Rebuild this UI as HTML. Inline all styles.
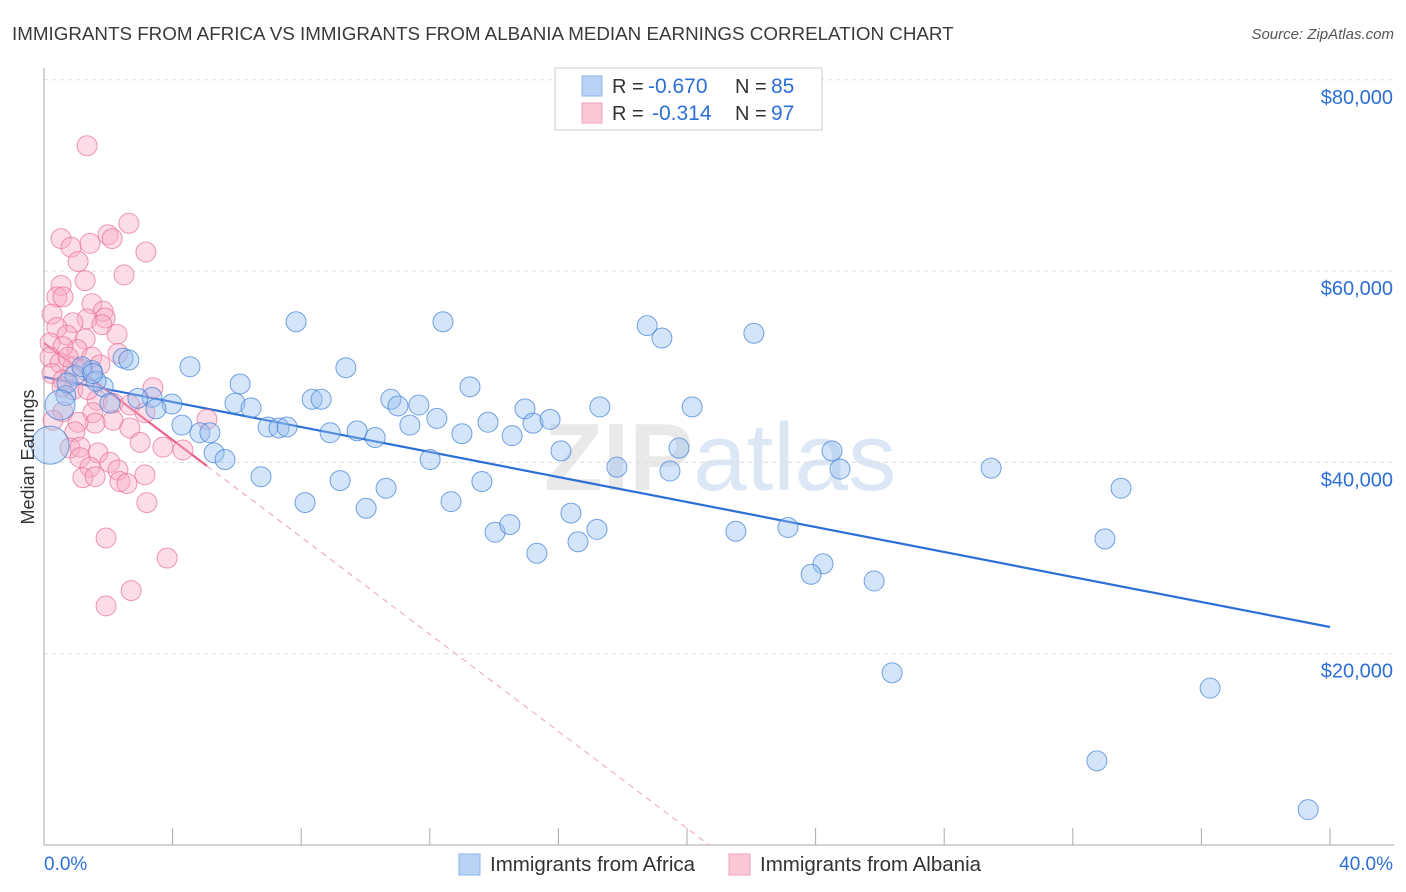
<!DOCTYPE html>
<html><head><meta charset="utf-8"><style>
body{margin:0;background:#fff;font-family:"Liberation Sans",sans-serif;}
svg{display:block}
</style></head><body>
<svg id="chart" width="1406" height="892" viewBox="0 0 1406 892" xmlns="http://www.w3.org/2000/svg">
<text x="12" y="40" font-size="18.8" fill="#3a3a3a">IMMIGRANTS FROM AFRICA VS IMMIGRANTS FROM ALBANIA MEDIAN EARNINGS CORRELATION CHART</text>
<text x="1394" y="39" font-size="15" fill="#555" font-style="italic" text-anchor="end">Source: ZipAtlas.com</text>
<text x="720" y="490" font-size="96" font-weight="bold" text-anchor="middle" fill="#e4e4e4" opacity="0.8">ZIP<tspan fill="#d3e2f3" font-weight="normal">atlas</tspan></text>
<g id="grid"></g>
<g id="axes"></g>
<g id="lines"></g>
<g id="points"></g>
<text transform="translate(34,457) rotate(-90)" font-size="18" fill="#333" text-anchor="middle">Median Earnings</text>
<g>
<rect x="555" y="68" width="267" height="62" fill="#fff" stroke="#ccc"/>
<rect x="582" y="76" width="20" height="20" fill="#b9d3f5" stroke="#8ab4ea"/>
<rect x="582" y="103" width="20" height="20" fill="#fbc8d8" stroke="#f2a0ba"/>
<text x="612" y="93" font-size="20" fill="#333">R =</text>
<text x="648" y="93" font-size="21" fill="#2d6fd6">-0.670</text>
<text x="735" y="93" font-size="20" fill="#333">N =</text>
<text x="771" y="93" font-size="21" fill="#2d6fd6">85</text>
<text x="612" y="120" font-size="20" fill="#333">R =</text>
<text x="652" y="120" font-size="21" fill="#2d6fd6">-0.314</text>
<text x="735" y="120" font-size="20" fill="#333">N =</text>
<text x="771" y="120" font-size="21" fill="#2d6fd6">97</text>
</g>
<g>
<rect x="459" y="854" width="21" height="21" fill="#b9d3f5" stroke="#8ab4ea"/>
<text x="490" y="871" font-size="20.5" fill="#333">Immigrants from Africa</text>
<rect x="729" y="854" width="21" height="21" fill="#fbc8d8" stroke="#f2a0ba"/>
<text x="760" y="871" font-size="20.5" fill="#333">Immigrants from Albania</text>
</g>
</svg>
<script>
const xTicksPct=[0,4,8,12,16,20,24,28,32,36,40];
const yTicks=[20000,40000,60000,80000];
const yTickLabels=["$20,000","$40,000","$60,000","$80,000"];
const africaX=[7.84,12.41,18.76,19.22,22.08,2.46,2.64,4.54,9.39,1.49,6.10,13.25,1.84,3.36,2.92,3.98,3.48,5.94,6.44,8.34,8.62,10.79,11.01,11.66,14.96,17.29,20.16,12.22,13.81,15.21,15.74,11.38,4.29,4.85,5.16,6.97,7.31,7.56,8.90,9.74,10.30,13.0,14.56,16.08,19.75,24.51,5.29,5.63,12.01,17.82,19.47,24.76,29.46,6.75,9.21,10.64,13.62,33.5,8.12,10.02,12.66,16.39,14.03,14.49,17.2,16.61,15.33,21.52,23.14,33.0,24.23,23.86,25.82,26.38,36.27,32.75,39.32,0.96,1.18,1.62,0.68,2.05,0.72,1.52];
const africaY=[54.7,54.7,54.3,53.0,53.5,50.9,50.7,50.0,49.9,49.6,48.2,47.9,47.9,46.8,46.7,46.1,45.6,46.2,45.7,46.6,46.6,46.6,45.9,46.0,45.6,45.8,45.8,44.6,44.2,44.1,44.5,43.9,43.9,43.1,43.1,43.7,43.6,43.7,43.1,43.3,42.6,43.0,42.8,41.2,41.5,41.2,41.0,40.3,40.3,39.5,39.1,39.3,39.4,38.5,38.1,37.3,38.0,37.3,35.8,35.2,35.9,34.7,32.7,33.5,33.0,31.7,30.5,32.8,33.2,32.0,29.4,28.3,27.6,18.0,16.4,8.8,3.7,49.1,50.0,48.5,47.0,46.2,48.3,49.3];
const africaBigX=[0.5,0.19];
const africaBigY=[46.0,41.8];
const albaniaX=[1.34,0.53,0.84,1.43,1.99,2.12,2.64,3.17,1.06,1.28,2.49,0.53,0.40,0.59,0.25,1.49,1.84,1.90,1.34,1.80,2.27,0.90,0.40,0.72,1.28,0.19,1.03,0.59,1.49,2.30,0.19,0.50,0.90,1.21,0.25,0.59,0.90,0.56,3.39,1.65,2.15,2.67,3.14,1.52,2.15,1.59,2.67,5.07,1.06,0.59,0.28,2.99,3.70,4.32,0.96,0.81,1.12,1.68,2.05,1.12,1.43,2.30,3.14,1.21,1.59,2.36,2.58,3.20,1.93,3.83,2.71,1.93,1.74,0.75,1.37];
const albaniaY=[73.1,63.4,62.5,62.9,63.8,63.4,65.0,62.0,61.0,59.0,59.6,58.5,57.3,57.3,55.5,56.6,55.8,55.1,55.0,54.4,53.4,54.6,54.1,53.3,52.9,52.5,51.8,52.1,51.0,51.4,51.0,50.4,50.0,49.7,49.3,48.6,47.6,47.9,47.8,46.5,46.2,46.0,45.2,45.2,44.4,44.1,43.6,44.5,44.2,45.3,44.4,42.1,41.6,41.3,43.2,41.5,41.6,41.0,40.0,40.5,39.5,39.2,38.7,38.4,38.5,38.0,37.8,35.8,32.1,30.0,26.6,25.0,50.2,51.0,47.6];
const africaTrend=[48930,22790];
const albaniaTrend=[52480,-2537];
const albaniaSolidEnd=5.07;

const NS="http://www.w3.org/2000/svg";
const X0=44,X1=1330,YB=845;
const xs=p=>X0+(X1-X0)*p/40;
const ys=v=>YB-(v/20000)*191.3;
function mk(tag,attrs,parent){const e=document.createElementNS(NS,tag);for(const k in attrs)e.setAttribute(k,attrs[k]);document.getElementById(parent).appendChild(e);return e;}

yTicks.forEach((t,i)=>{
  const g=mk('line',{x1:X0,x2:1394,y1:ys(t),y2:ys(t),stroke:'#ddd','stroke-dasharray':'4,4'},'grid');
  
  
  const tx=mk('text',{x:1393,y:ys(t)+24,'font-size':20,fill:'#2d6fd6','text-anchor':'end'},'axes');
  tx.textContent=yTickLabels[i];
  
  
});
const ax=mk('line',{x1:X0,x2:X0,y1:68,y2:YB,stroke:'#aaa'},'axes');


const bx=mk('line',{x1:X0,x2:1394,y1:YB,y2:YB,stroke:'#aaa'},'axes');


xTicksPct.forEach(p=>{
  const t=mk('line',{x1:xs(p),x2:xs(p),y1:YB,y2:YB-17,stroke:'#aaa'},'axes');
  
  
});
const l0=mk('text',{x:44,y:870,'font-size':19,fill:'#2d6fd6'},'axes');l0.textContent='0.0%';


const l1=mk('text',{x:1393,y:870,'font-size':19,fill:'#2d6fd6','text-anchor':'end'},'axes');l1.textContent='40.0%';



const bl=mk('line',{x1:xs(0),y1:ys(africaTrend[0]),x2:xs(40),y2:ys(africaTrend[1]),stroke:'#2d6fd6','stroke-width':2.2},'lines');


const pinkAt=p=>albaniaTrend[0]+albaniaTrend[1]*p;
const zeroP=-albaniaTrend[0]/albaniaTrend[1];
const pd=mk('line',{x1:xs(albaniaSolidEnd),y1:ys(pinkAt(albaniaSolidEnd)),x2:xs(zeroP),y2:ys(0),stroke:'#f0a0b8','stroke-width':1,'stroke-dasharray':'6,5'},'lines');


const pl=mk('line',{x1:xs(0),y1:ys(pinkAt(0)),x2:xs(albaniaSolidEnd),y2:ys(pinkAt(albaniaSolidEnd)),stroke:'#e8608a','stroke-width':2.2},'lines');



albaniaX.forEach((x,i)=>{
  const c=mk('circle',{cx:xs(x),cy:ys(albaniaY[i]*1000),r:10,fill:'rgba(248,170,195,0.4)',stroke:'rgba(232,110,150,0.7)','stroke-width':1},'points');
  
  
});
africaX.forEach((x,i)=>{
  const c=mk('circle',{cx:xs(x),cy:ys(africaY[i]*1000),r:10,fill:'rgba(150,190,240,0.4)',stroke:'rgba(60,125,215,0.7)','stroke-width':1},'points');
  
  
});
africaBigX.forEach((x,i)=>{
  const c=mk('circle',{cx:xs(x),cy:ys(africaBigY[i]*1000),r:i?19:15,fill:'rgba(150,190,240,0.4)',stroke:'rgba(60,125,215,0.7)','stroke-width':1},'points');
  
  
});
</script>
</body></html>
